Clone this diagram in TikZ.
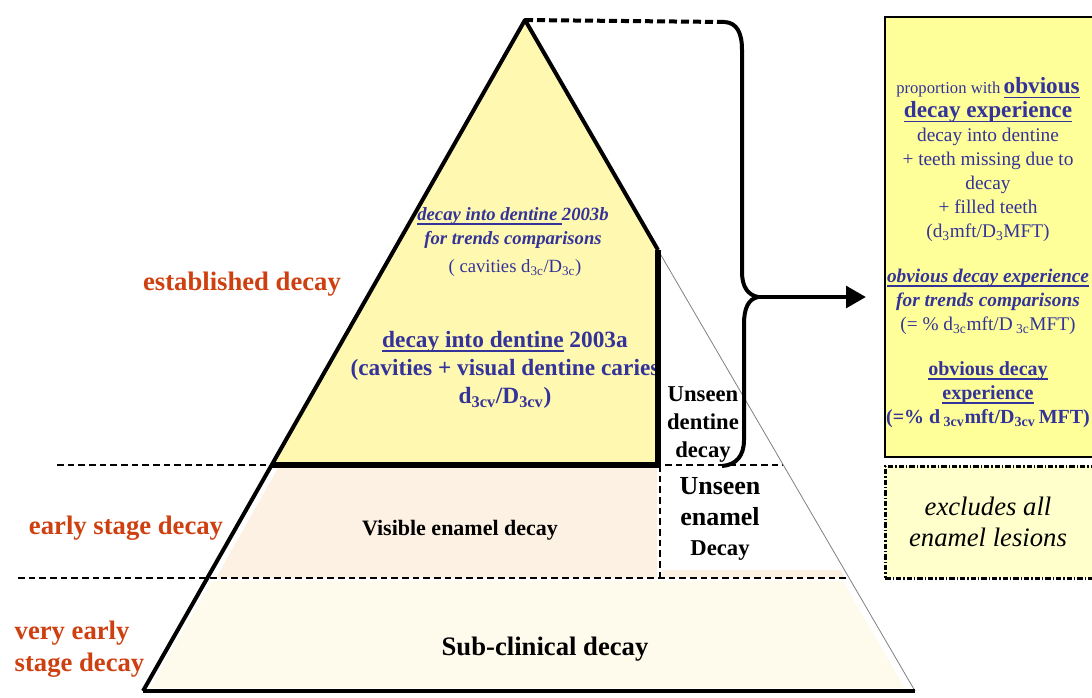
\documentclass[tikz,border=0pt]{standalone}
\usepackage{fontspec}
\setmainfont{Liberation Serif}
\usetikzlibrary{arrows.meta}
\definecolor{decayblue}{RGB}{51,51,153}
\definecolor{stagered}{RGB}{206,64,16}
\definecolor{dentinefill}{RGB}{255,248,176}
\definecolor{enamelfill}{RGB}{253,241,228}
\definecolor{subfill}{RGB}{255,251,236}
\definecolor{boxfill}{RGB}{255,255,153}
\definecolor{lesionfill}{RGB}{255,255,204}
\newsavebox{\ulbox}
\newcommand{\uln}[1]{\sbox{\ulbox}{#1}\rlap{\rule[-3pt]{\wd\ulbox}{1.1pt}}\usebox{\ulbox}}

\begin{document}
\begin{tikzpicture}[x=0.75pt,y=-0.75pt,
	rim/.style={line width=3pt,line join=round},
	level/.style={line width=1.3pt,dash pattern=on 5pt off 3pt},
	stage/.style={text=stagered,font=\bfseries\fontsize{20}{24}\selectfont,align=left},
	navy/.style={text=decayblue,align=center},
	unseen/.style={font=\bfseries\fontsize{17}{21}\selectfont,align=center}]
	\useasboundingbox (0,0) rectangle (1092,697);
	\coordinate (apex) at (525,20);
	\coordinate (dl) at (272,465);
	\coordinate (dr) at (658,250);
	\coordinate (db) at (658,465);
	\coordinate (bl) at (143,691);
	\coordinate (br) at (915,691);
	\coordinate (tip) at (758,297);

	\fill[dentinefill] (apex) -- (dl) -- (db) -- (dr) -- cycle;
	\fill[enamelfill] (278,468) -- (657,468) -- (657,578) -- (216,578) -- cycle;
	\fill[enamelfill] (662,570) -- (840,570) -- (845,578) -- (662,578) -- cycle;
	\fill[subfill] (212,581) -- (843,581) -- (905,688) -- (150,688) -- cycle;

	\node[draw,line width=1.5pt,fill=boxfill,anchor=north west,minimum width=165pt,minimum height=330pt,inner sep=0pt] (obvious) at (884,16) {};
	\node[draw,line width=2pt,dash pattern=on 4pt off 1.5pt on 1pt off 1.5pt,fill=lesionfill,anchor=north west,minimum width=165pt,minimum height=84pt,inner sep=0pt] (lesions) at (884,465) {};

	\node[stage] (established) at (242,284) {established decay};
	\node[stage] (early) at (126,528) {early stage decay};
	\node[stage,anchor=west] (veryearly) at (10,649) {very early\\stage decay};

	\node[navy,font=\bfseries\itshape\fontsize{14}{17.5}\selectfont] (trend) at (513,228) {\uln{decay into dentine\ }2003b\\for trends comparisons};
	\node[navy,font=\fontsize{14}{17}\selectfont] (cavities) at (515,268) {( cavities d\textsubscript{3c}/D\textsubscript{3c})};
	\node[navy,font=\bfseries\fontsize{17.5}{21}\selectfont] (visual) at (505,370) {\uln{decay into dentine} 2003a\\(cavities + visual dentine caries\\d\textsubscript{3cv}/D\textsubscript{3cv})};
	\node[unseen] (dentine) at (703,425) {Unseen\\dentine\\decay};
	\node[align=center,font=\bfseries\fontsize{19.5}{23}\selectfont] (enamel) at (720,519) {Unseen\\enamel\\{\fontsize{17}{23}\selectfont Decay}};
	\node[font=\bfseries\fontsize{16.5}{20}\selectfont] (visible) at (460,530) {Visible enamel decay};
	\node[font=\bfseries\fontsize{20}{24}\selectfont] (subclinical) at (545,649) {Sub-clinical decay};

	\node[navy,font=\fontsize{14.5}{18}\selectfont] (experience) at (988,160) {{\fontsize{12.5}{18}\selectfont proportion with}\,\textbf{\fontsize{17.4}{18}\selectfont\uln{obvious}}\\\textbf{\fontsize{17.4}{18}\selectfont\uln{decay experience}}\\decay into dentine\\+ teeth missing due to\\decay\\+ filled teeth\\(d\textsubscript{3}mft/D\textsubscript{3}MFT)};
	\node[navy,font=\bfseries\itshape\fontsize{14.5}{18}\selectfont] (trendbox) at (988,302) {\uln{obvious decay experience}\\for trends comparisons\\{\mdseries\upshape (= \%\ d\textsubscript{3c}mft/D\,\textsubscript{3c}MFT)}};
	\node[navy,font=\bfseries\fontsize{15}{18}\selectfont] (cvbox) at (988,395) {\uln{obvious decay}\\\uln{experience}\\(=\%\ d\,\textsubscript{3cv}mft/D\textsubscript{3cv}\,MFT)};
	\node[font=\itshape\fontsize{20}{23}\selectfont,align=center] (excludes) at (988,522) {excludes all\\enamel lesions};

	\draw[level] (57,465) -- (783,465);
	\draw[level] (18,578) -- (848,578);
	\draw[level] (660,465) -- (660,578);
	\draw[gray,line width=0.6pt] (dr) -- (br);
	\draw[rim] (bl) -- (apex) -- (dr);
	\draw[line width=4pt] (dr) -- (db) -- (dl);
	\draw[rim] (bl) -- (br);

	\draw[line width=3pt,dash pattern=on 6pt off 3pt] (apex) -- (725,22);
	\draw[line width=3pt] (725,22) .. controls (737,23) and (742,33) .. (742,50) -- (742,272) .. controls (742,287) and (748,295) .. (tip) .. controls (748,299) and (744,309) .. (744,324) -- (744,440) .. controls (744,456) and (736,465) .. (722,466);
	\draw[line width=3.5pt,-{Triangle[length=15pt,width=16pt]},shorten >=13.5pt] (tip) -- (tip -| obvious.west);
\end{tikzpicture}
\end{document}
